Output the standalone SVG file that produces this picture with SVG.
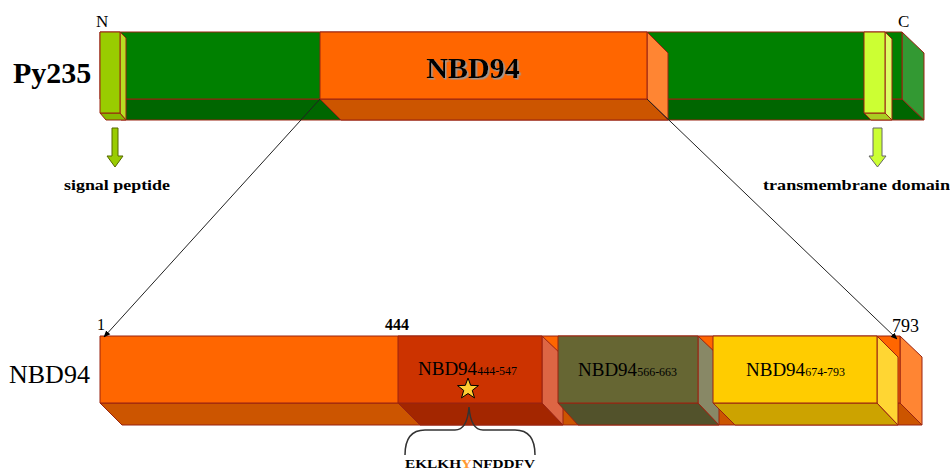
<svg xmlns="http://www.w3.org/2000/svg" width="950" height="471" viewBox="0 0 950 471">
<style>
.e{stroke:#992211;stroke-width:1;stroke-linejoin:round}
.t{font-family:"Liberation Serif","Times New Roman","DejaVu Serif",serif;fill:#000}
.b{font-weight:bold}
</style>
<defs>
<marker id="ah" viewBox="0 0 10 10" refX="9" refY="5" markerWidth="7" markerHeight="7" orient="auto" markerUnits="userSpaceOnUse">
<path d="M0,1 L10,5 L0,9 Z" fill="#000"/>
</marker>
<filter id="sh" x="-10%" y="-20%" width="130%" height="150%">
<feDropShadow dx="1.5" dy="1.5" stdDeviation="0.3" flood-color="#999" flood-opacity="1"/>
</filter>
</defs>
<rect width="950" height="471" fill="#fff"/>

<g id="py235">
<polygon class="e" points="100,99 902,99 924,120 121,120" fill="#006600"/>
<polygon class="e" points="902,32 924,53 924,120 902,99" fill="#339933"/>
<rect class="e" x="100" y="32" width="802" height="67" fill="#008000"/>
</g>
<g id="nbd94-top">
<polygon class="e" points="320,99 647,99 668,120 341,120" fill="#CC5500"/>
<polygon class="e" points="647,32 668,53 668,120 647,99" fill="#FF8533"/>
<rect class="e" x="320" y="32" width="327" height="67" fill="#FF6600"/>
<text class="t b" x="473" y="78" font-size="30" text-anchor="middle" filter="url(#sh)">NBD94</text>
</g>
<g id="signal-peptide">
<polygon class="e" points="100,113 120,113 126,120 106,120" fill="#88B800"/>
<polygon class="e" points="120,32 126,38 126,120 120,113" fill="#B8DD22"/>
<rect class="e" x="100" y="32" width="20" height="81" fill="#99CC00"/>
<polygon points="112,128 118,128 118,156 123,156 115,167 107,156 112,156" fill="#99CC00" stroke="#556600" stroke-width="1"/>
<text class="t b" x="64" y="190" font-size="15" textLength="106" lengthAdjust="spacingAndGlyphs">signal peptide</text>
</g>
<g id="transmembrane">
<polygon class="e" points="864,113 885,113 892,120 871,120" fill="#AACC22"/>
<polygon class="e" points="885,32 892,39 892,120 885,113" fill="#DDFF66"/>
<rect class="e" x="864" y="32" width="21" height="81" fill="#CCFF33"/>
<polygon points="873,128 882,128 882,156 886,156 877.5,167 869,156 873,156" fill="#CCFF33" stroke="#666" stroke-width="1"/>
<text class="t b" x="763" y="190" font-size="15" textLength="187" lengthAdjust="spacingAndGlyphs">transmembrane domain</text>
</g>
<g id="labels-top">
<text class="t" x="96" y="27" font-size="17">N</text>
<text class="t" x="898" y="27" font-size="17">C</text>
<text class="t b" x="13" y="83" font-size="30">Py235</text>
</g>

<g id="nbd94-bar">
<polygon class="e" points="100,403 900,403 922,425 122,425" fill="#CC5500"/>
<polygon class="e" points="900,336 922,357 922,425 900,403" fill="#FF8533"/>
<rect class="e" x="100" y="336" width="800" height="67" fill="#FF6600"/>
<text class="t" x="9" y="383" font-size="26">NBD94</text>
<text class="t" x="97" y="330" font-size="16">1</text>
<text class="t b" x="385" y="330" font-size="16">444</text>
<text class="t" x="892" y="332" font-size="18">793</text>
</g>
<g id="seg-444-547">
<polygon class="e" points="398,403 542,403 563,425 420,425" fill="#A32600"/>
<polygon class="e" points="542,336 563,356 563,425 542,403" fill="#DD6644"/>
<rect class="e" x="398" y="336" width="144" height="67" fill="#CC3300"/>
<text class="t" x="418" y="375" font-size="19">NBD94<tspan font-size="12">444-547</tspan></text>
<polygon points="468,378 470.65,385.36 478.46,385.6 472.28,390.39 474.47,397.9 468,393.5 461.53,397.9 463.72,390.39 457.54,385.6 465.35,385.36" fill="#FFCC33" stroke="#000" stroke-width="1"/>
</g>
<g id="seg-566-663">
<polygon class="e" points="558,403 698,403 719,425 578,425" fill="#52522B"/>
<polygon class="e" points="698,336 719,356 719,425 698,403" fill="#888866"/>
<rect class="e" x="558" y="336" width="140" height="67" fill="#666633"/>
<text class="t" x="578" y="376" font-size="19">NBD94<tspan font-size="12">566-663</tspan></text>
</g>
<g id="seg-674-793">
<polygon class="e" points="713,403 877,403 898,425 735,425" fill="#CCA300"/>
<polygon class="e" points="877,336 898,357 898,425 877,403" fill="#FFD633"/>
<rect class="e" x="713" y="336" width="164" height="67" fill="#FFCC00"/>
<text class="t" x="746" y="376" font-size="19">NBD94<tspan font-size="12">674-793</tspan></text>
</g>
<g id="motif">
<path d="M405,455 C405,440 410,430 425,430 L455,430 C465,430 468,420 469,407 C470,420 473,430 483,430 L515,430 C530,430 535,440 535,455" fill="none" stroke="#333" stroke-width="1.5"/>
<text class="t b" x="405" y="468" font-size="13" textLength="130" lengthAdjust="spacingAndGlyphs">EKLKH<tspan fill="#FF9933">Y</tspan>NFDDFV</text>
</g>

<g id="connectors" stroke="#222" stroke-width="1" fill="none">
<line x1="320" y1="99" x2="104" y2="337" marker-end="url(#ah)"/>
<line x1="647" y1="99" x2="897" y2="339" marker-end="url(#ah)"/>
</g>
</svg>
